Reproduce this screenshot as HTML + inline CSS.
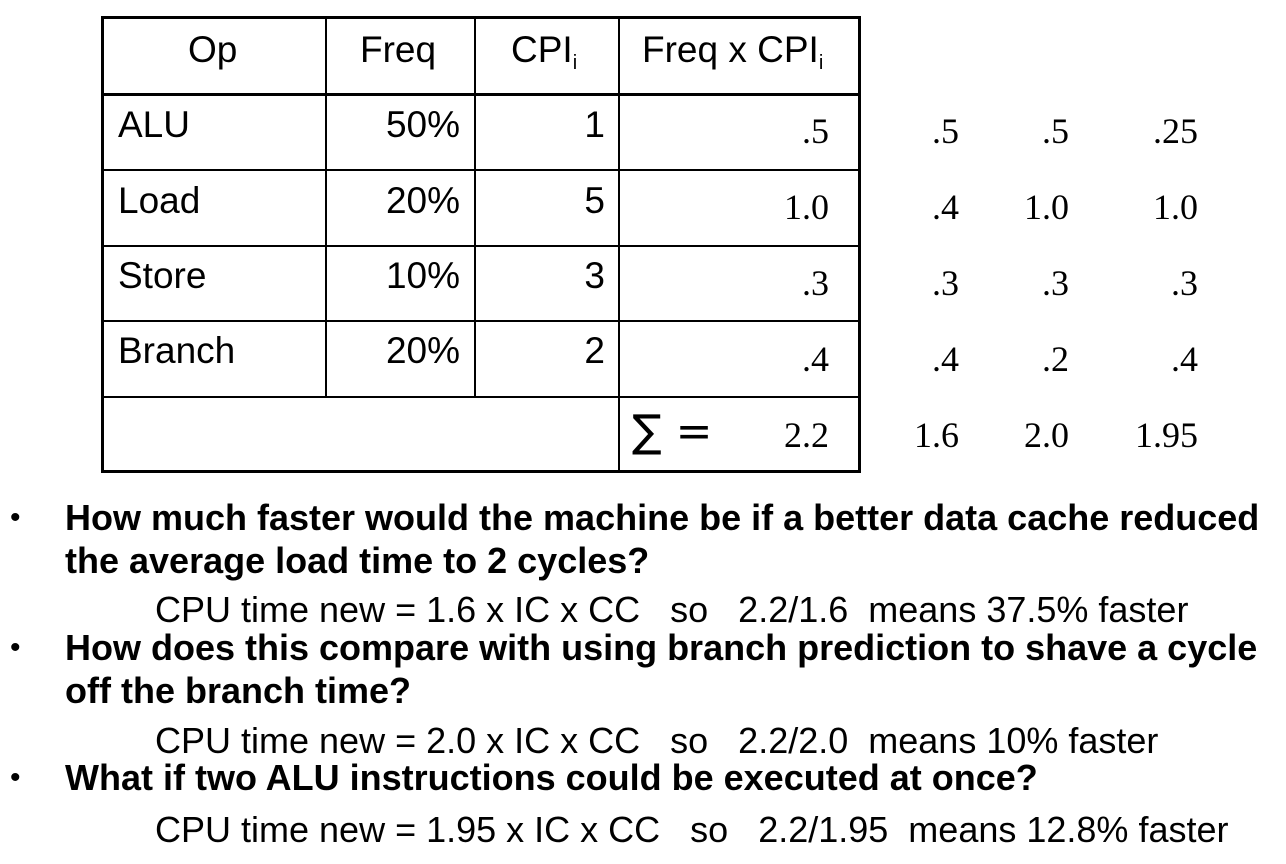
<!DOCTYPE html>
<html><head><meta charset="utf-8"><style>
body{margin:0;width:1286px;height:864px;background:#fff;position:relative;overflow:hidden;font-family:"Liberation Sans",sans-serif;color:#000}
.a{position:absolute;white-space:nowrap;line-height:1}
.s{font-family:"Liberation Sans",sans-serif;font-size:37px}
.r{font-family:"Liberation Serif",serif;font-size:36px;text-align:right}
.b{font-weight:bold;font-size:36px}
.q{font-size:36px}
.ln{position:absolute;background:#000}
sub{font-size:20px;vertical-align:-7px}
.rt{text-align:right}
</style></head><body>
<div>
<div class="ln" style="left:101px;top:16px;width:760px;height:3px"></div>
<div class="ln" style="left:101px;top:470px;width:760px;height:3px"></div>
<div class="ln" style="left:101px;top:16px;width:3px;height:457px"></div>
<div class="ln" style="left:858px;top:16px;width:3px;height:457px"></div>
<div class="ln" style="left:102px;top:93px;width:758px;height:3px"></div>
<div class="ln" style="left:102px;top:169px;width:758px;height:2px"></div>
<div class="ln" style="left:102px;top:245px;width:758px;height:2px"></div>
<div class="ln" style="left:102px;top:320px;width:758px;height:2px"></div>
<div class="ln" style="left:102px;top:396px;width:758px;height:2px"></div>
<div class="ln" style="left:325px;top:17px;width:2px;height:380px"></div>
<div class="ln" style="left:474px;top:17px;width:2px;height:380px"></div>
<div class="ln" style="left:618px;top:17px;width:2px;height:455px"></div>
</div>
<div class="a s" style="left:188px;top:31px">Op</div>
<div class="a s" style="left:360px;top:31px">Freq</div>
<div class="a s" style="left:511px;top:31px">CPI<sub>i</sub></div>
<div class="a s" style="left:642px;top:31px">Freq x CPI<sub>i</sub></div>

<div class="a s" style="left:118px;top:106px">ALU</div>
<div class="a s" style="left:118px;top:182px">Load</div>
<div class="a s" style="left:118px;top:257px">Store</div>
<div class="a s" style="left:118px;top:332px">Branch</div>

<div class="a s rt" style="left:330px;width:130px;top:106px">50%</div>
<div class="a s rt" style="left:330px;width:130px;top:182px">20%</div>
<div class="a s rt" style="left:330px;width:130px;top:257px">10%</div>
<div class="a s rt" style="left:330px;width:130px;top:332px">20%</div>
<div class="a s rt" style="left:480px;width:125px;top:106px">1</div>
<div class="a s rt" style="left:480px;width:125px;top:182px">5</div>
<div class="a s rt" style="left:480px;width:125px;top:257px">3</div>
<div class="a s rt" style="left:480px;width:125px;top:332px">2</div>

<div class="a r" style="left:700px;width:129px;top:93px;line-height:76px">.5<br>1.0<br>.3<br>.4<br>2.2</div>
<div class="a r" style="left:860px;width:99px;top:93px;line-height:76px">.5<br>.4<br>.3<br>.4<br>1.6</div>
<div class="a r" style="left:970px;width:99px;top:93px;line-height:76px">.5<br>1.0<br>.3<br>.2<br>2.0</div>
<div class="a r" style="left:1100px;width:98px;top:93px;line-height:76px">.25<br>1.0<br>.3<br>.4<br>1.95</div>
<div class="a" style="left:632px;top:410px;font-size:44px;font-family:'DejaVu Sans',sans-serif">&sum; =</div>

<div class="a" style="left:10px;top:503px;font-size:30px">•</div>
<div class="a b" style="left:65px;top:496px;line-height:43px">How much faster would the machine be if a better data cache reduced<br>the average load time to 2 cycles?</div>
<div class="a q" style="left:155px;top:592px">CPU time new = 1.6 x IC x CC &nbsp; so &nbsp; 2.2/1.6 &nbsp;means 37.5% faster</div>
<div class="a" style="left:10px;top:633px;font-size:30px">•</div>
<div class="a b" style="left:65px;top:626px;line-height:43px">How does this compare with using branch prediction to shave a cycle<br>off the branch time?</div>
<div class="a q" style="left:155px;top:723px">CPU time new = 2.0 x IC x CC &nbsp; so &nbsp; 2.2/2.0 &nbsp;means 10% faster</div>
<div class="a" style="left:10px;top:763px;font-size:30px">•</div>
<div class="a b" style="left:65px;top:760px">What if two ALU instructions could be executed at once?</div>
<div class="a q" style="left:155px;top:812px">CPU time new = 1.95 x IC x CC &nbsp; so &nbsp; 2.2/1.95 &nbsp;means 12.8% faster</div>
</body></html>
